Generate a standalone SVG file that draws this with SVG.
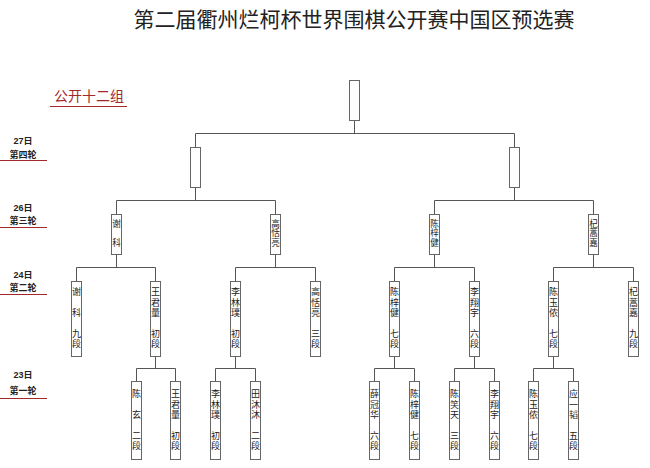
<svg xmlns="http://www.w3.org/2000/svg" width="650" height="468" viewBox="0 0 650 468">
<style>
.bg{fill:#ffffff}
.box{fill:#ffffff;stroke:#666666;stroke-width:1}
.ln{fill:none;stroke:#555555;stroke-width:1}
.nm{font-family:"Liberation Sans","Noto Sans CJK SC",sans-serif;font-size:9px;fill:#222222;text-anchor:middle}
.n3{font-family:"Liberation Sans","Noto Sans CJK SC",sans-serif;font-size:8.6px;fill:#222222;text-anchor:middle}
.title{font-family:"Noto Sans CJK SC",sans-serif;font-size:21px;fill:#222222;text-anchor:middle}
.grp{font-family:"Noto Sans CJK SC",sans-serif;font-size:14px;fill:#a3282c}
.rd{font-family:"Liberation Sans","Noto Sans CJK SC",sans-serif;font-size:9px;font-weight:bold;fill:#222222;text-anchor:middle}
.rl{stroke:#a3282c;stroke-width:1.2}
</style>
<rect class="bg" x="0" y="0" width="650" height="468"/>
<text class="title" x="354" y="27">第二届衢州烂柯杯世界围棋公开赛中国区预选赛</text>
<g id="group-label">
<text class="grp" x="54" y="101">公开十二组</text>
<line class="rl" x1="50" y1="106.5" x2="127" y2="106.5"/>
</g>
<g id="round-labels">
<text class="rd" x="23" y="144">27日</text>
<text class="rd" x="23" y="157.5">第四轮</text>
<line class="rl" x1="0" y1="160.5" x2="47" y2="160.5"/>
<text class="rd" x="23" y="211">26日</text>
<text class="rd" x="23" y="224">第三轮</text>
<line class="rl" x1="0" y1="227.5" x2="47" y2="227.5"/>
<text class="rd" x="23" y="278">24日</text>
<text class="rd" x="23" y="291">第二轮</text>
<line class="rl" x1="0" y1="294.5" x2="47" y2="294.5"/>
<text class="rd" x="23" y="378">23日</text>
<text class="rd" x="23" y="394">第一轮</text>
<line class="rl" x1="0" y1="398.5" x2="47" y2="398.5"/>
</g>
<g id="connectors">
<path class="ln" d="M354.5 120.5V133.5M195.5 133.5H514.5M195.5 133.5V147.5M514.5 133.5V147.5"/>
<path class="ln" d="M195.5 187.5V200.5M116.5 200.5H275.5M116.5 200.5V214.5M275.5 200.5V214.5"/>
<path class="ln" d="M514.5 187.5V200.5M434.5 200.5H593.5M434.5 200.5V214.5M593.5 200.5V214.5"/>
<path class="ln" d="M116.5 254.5V267.5M76.5 267.5H155.5M76.5 267.5V281.5M155.5 267.5V281.5"/>
<path class="ln" d="M275.5 254.5V267.5M235.5 267.5H315.5M235.5 267.5V281.5M315.5 267.5V281.5"/>
<path class="ln" d="M434.5 254.5V267.5M394.5 267.5H474.5M394.5 267.5V281.5M474.5 267.5V281.5"/>
<path class="ln" d="M593.5 254.5V267.5M553.5 267.5H633.5M553.5 267.5V281.5M633.5 267.5V281.5"/>
<path class="ln" d="M155.5 356.5V368.5M136.5 368.5H175.5M136.5 368.5V381.5M175.5 368.5V381.5"/>
<path class="ln" d="M235.5 356.5V368.5M215.5 368.5H255.5M215.5 368.5V381.5M255.5 368.5V381.5"/>
<path class="ln" d="M394.5 356.5V368.5M374.5 368.5H414.5M374.5 368.5V381.5M414.5 368.5V381.5"/>
<path class="ln" d="M474.5 356.5V368.5M454.5 368.5H494.5M454.5 368.5V381.5M494.5 368.5V381.5"/>
<path class="ln" d="M553.5 356.5V368.5M533.5 368.5H573.5M533.5 368.5V381.5M573.5 368.5V381.5"/>
</g>
<g id="final"><rect class="box" x="349.5" y="80.5" width="10" height="40"/></g>
<g id="r4-left"><rect class="box" x="190.5" y="147.5" width="10" height="40"/></g>
<g id="r4-right"><rect class="box" x="509.5" y="147.5" width="10" height="40"/></g>
<g id="r3-1"><rect class="box" x="111.5" y="214.5" width="10" height="40"/>
<text class="n3" x="116.5" y="226.5">谢</text><text class="n3" x="116.5" y="246.1">科</text></g>
<g id="r3-2"><rect class="box" x="270.5" y="214.5" width="10" height="40"/>
<text class="n3" x="275.5" y="226.5">高</text><text class="n3" x="275.5" y="236.3">恬</text><text class="n3" x="275.5" y="246.1">亮</text></g>
<g id="r3-3"><rect class="box" x="429.5" y="214.5" width="10" height="40"/>
<text class="n3" x="434.5" y="226.5">陈</text><text class="n3" x="434.5" y="236.3">梓</text><text class="n3" x="434.5" y="246.1">健</text></g>
<g id="r3-4"><rect class="box" x="588.5" y="214.5" width="10" height="40"/>
<text class="n3" x="593.5" y="226.5">杞</text><text class="n3" x="593.5" y="236.3">蒿</text><text class="n3" x="593.5" y="246.1">嘉</text></g>
<g id="r2-1"><rect class="box" x="71.5" y="281.5" width="10" height="75"/>
<text class="nm" x="76.5" y="295.3">谢</text><text class="nm" x="76.5" y="315.9">科</text><text class="nm" x="76.5" y="336.5">九</text><text class="nm" x="76.5" y="346.8">段</text></g>
<g id="r2-2"><rect class="box" x="150.5" y="281.5" width="10" height="75"/>
<text class="nm" x="155.5" y="295.3">王</text><text class="nm" x="155.5" y="305.6">君</text><text class="nm" x="155.5" y="315.9">量</text><text class="nm" x="155.5" y="336.5">初</text><text class="nm" x="155.5" y="346.8">段</text></g>
<g id="r2-3"><rect class="box" x="230.5" y="281.5" width="10" height="75"/>
<text class="nm" x="235.5" y="295.3">李</text><text class="nm" x="235.5" y="305.6">林</text><text class="nm" x="235.5" y="315.9">璞</text><text class="nm" x="235.5" y="336.5">初</text><text class="nm" x="235.5" y="346.8">段</text></g>
<g id="r2-4"><rect class="box" x="310.5" y="281.5" width="10" height="75"/>
<text class="nm" x="315.5" y="295.3">高</text><text class="nm" x="315.5" y="305.6">恬</text><text class="nm" x="315.5" y="315.9">亮</text><text class="nm" x="315.5" y="336.5">三</text><text class="nm" x="315.5" y="346.8">段</text></g>
<g id="r2-5"><rect class="box" x="389.5" y="281.5" width="10" height="75"/>
<text class="nm" x="394.5" y="295.3">陈</text><text class="nm" x="394.5" y="305.6">梓</text><text class="nm" x="394.5" y="315.9">健</text><text class="nm" x="394.5" y="336.5">七</text><text class="nm" x="394.5" y="346.8">段</text></g>
<g id="r2-6"><rect class="box" x="469.5" y="281.5" width="10" height="75"/>
<text class="nm" x="474.5" y="295.3">李</text><text class="nm" x="474.5" y="305.6">翔</text><text class="nm" x="474.5" y="315.9">宇</text><text class="nm" x="474.5" y="336.5">六</text><text class="nm" x="474.5" y="346.8">段</text></g>
<g id="r2-7"><rect class="box" x="548.5" y="281.5" width="10" height="75"/>
<text class="nm" x="553.5" y="295.3">陈</text><text class="nm" x="553.5" y="305.6">玉</text><text class="nm" x="553.5" y="315.9">侬</text><text class="nm" x="553.5" y="336.5">七</text><text class="nm" x="553.5" y="346.8">段</text></g>
<g id="r2-8"><rect class="box" x="628.5" y="281.5" width="10" height="75"/>
<text class="nm" x="633.5" y="295.3">杞</text><text class="nm" x="633.5" y="305.6">蒿</text><text class="nm" x="633.5" y="315.9">嘉</text><text class="nm" x="633.5" y="336.5">九</text><text class="nm" x="633.5" y="346.8">段</text></g>
<g id="r1-1"><rect class="box" x="131.5" y="381.5" width="10" height="78"/>
<text class="nm" x="136.5" y="397.3">陈</text><text class="nm" x="136.5" y="417.9">玄</text><text class="nm" x="136.5" y="438.5">二</text><text class="nm" x="136.5" y="448.8">段</text></g>
<g id="r1-2"><rect class="box" x="170.5" y="381.5" width="10" height="78"/>
<text class="nm" x="175.5" y="397.3">王</text><text class="nm" x="175.5" y="407.6">君</text><text class="nm" x="175.5" y="417.9">量</text><text class="nm" x="175.5" y="438.5">初</text><text class="nm" x="175.5" y="448.8">段</text></g>
<g id="r1-3"><rect class="box" x="210.5" y="381.5" width="10" height="78"/>
<text class="nm" x="215.5" y="397.3">李</text><text class="nm" x="215.5" y="407.6">林</text><text class="nm" x="215.5" y="417.9">璞</text><text class="nm" x="215.5" y="438.5">初</text><text class="nm" x="215.5" y="448.8">段</text></g>
<g id="r1-4"><rect class="box" x="250.5" y="381.5" width="10" height="78"/>
<text class="nm" x="255.5" y="397.3">田</text><text class="nm" x="255.5" y="407.6">沐</text><text class="nm" x="255.5" y="417.9">沐</text><text class="nm" x="255.5" y="438.5">二</text><text class="nm" x="255.5" y="448.8">段</text></g>
<g id="r1-5"><rect class="box" x="369.5" y="381.5" width="10" height="78"/>
<text class="nm" x="374.5" y="397.3">薛</text><text class="nm" x="374.5" y="407.6">冠</text><text class="nm" x="374.5" y="417.9">华</text><text class="nm" x="374.5" y="438.5">六</text><text class="nm" x="374.5" y="448.8">段</text></g>
<g id="r1-6"><rect class="box" x="409.5" y="381.5" width="10" height="78"/>
<text class="nm" x="414.5" y="397.3">陈</text><text class="nm" x="414.5" y="407.6">梓</text><text class="nm" x="414.5" y="417.9">健</text><text class="nm" x="414.5" y="438.5">七</text><text class="nm" x="414.5" y="448.8">段</text></g>
<g id="r1-7"><rect class="box" x="449.5" y="381.5" width="10" height="78"/>
<text class="nm" x="454.5" y="397.3">陈</text><text class="nm" x="454.5" y="407.6">笑</text><text class="nm" x="454.5" y="417.9">天</text><text class="nm" x="454.5" y="438.5">三</text><text class="nm" x="454.5" y="448.8">段</text></g>
<g id="r1-8"><rect class="box" x="489.5" y="381.5" width="10" height="78"/>
<text class="nm" x="494.5" y="397.3">李</text><text class="nm" x="494.5" y="407.6">翔</text><text class="nm" x="494.5" y="417.9">宇</text><text class="nm" x="494.5" y="438.5">六</text><text class="nm" x="494.5" y="448.8">段</text></g>
<g id="r1-9"><rect class="box" x="528.5" y="381.5" width="10" height="78"/>
<text class="nm" x="533.5" y="397.3">陈</text><text class="nm" x="533.5" y="407.6">玉</text><text class="nm" x="533.5" y="417.9">侬</text><text class="nm" x="533.5" y="438.5">七</text><text class="nm" x="533.5" y="448.8">段</text></g>
<g id="r1-10"><rect class="box" x="568.5" y="381.5" width="10" height="78"/>
<text class="nm" x="573.5" y="397.3">应</text><text class="nm" x="573.5" y="407.6">一</text><text class="nm" x="573.5" y="417.9">韬</text><text class="nm" x="573.5" y="438.5">五</text><text class="nm" x="573.5" y="448.8">段</text></g>
</svg>
